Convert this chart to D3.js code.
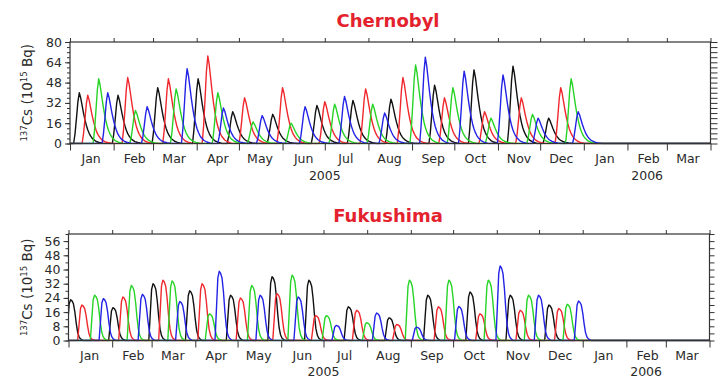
<!DOCTYPE html>
<html><head><meta charset="utf-8">
<script src="https://cdn.jsdelivr.net/npm/d3@7"></script>
<style>body{margin:0;background:#fff}svg{display:block}</style>
</head><body>
<svg id="c" width="726" height="378"></svg>
<script>
// ---------- data ----------
const monthLabels = ["Jan","Feb","Mar","Apr","May","Jun","Jul","Aug","Sep","Oct","Nov","Dec","Jan","Feb","Mar"];
const yearLabels = ["2005","2006"];
const seriesColors = ["#111111","#f0282d","#26d426","#2323e6"]; // pulses cycle black, red, green, blue
const chernobylTicks = [0,16,32,48,64,80];
const fukushimaTicks = [0,8,16,24,32,40,48,56];

// weekly releases: day of peak (days after 1 Jan 2005) and peak value (10^15 Bq)
const chernobylPeakDay = [6.6,12.6,20.4,26.8,34.1,41,46.5,54.8,62.3,69.9,75.4,83.2,91,97.9,105,109,115.6,124,130,136.5,144,151,157,167,175.4,181,188,195,201,210,215,223.5,228,236.5,245.5,252.4,259,266,272,280,287,294.5,299,307.6,314.7,320.6,328.5,332.5,340,348.6,356,361];
const chernobylPeakValue = [40,38,51,40,38,52,26,29,44,51,43,59,51,69,40,28,25,36,17,22,23,44,16,29,30,33,31,37,34,43,31,24,35,52,62,68,46,36,44,57,58,25,20,54,61,36,23,20,20,44,51,25];
const fukushimaPeakDay = [1.5,9.5,18.5,24.7,31.5,38.6,44.6,52.4,60,67,73.5,79,86,94.8,100,107,115,122,130,136,144.5,148,158.7,163,170.6,175.4,183,190,198.6,204.5,211.6,218.7,227.5,233,242,247,255,262.5,270,277,285,292,298,306.4,313.5,320.6,326.5,333.6,341,348,354,362];
const fukushimaPeakValue = [23,20,25.5,23.6,18.5,24.5,31,26,32,34,33.6,22,28,32,15,39,25.5,24,31,25.5,36,26.4,36.8,24.5,34,14,14,8.5,19,17,10,15.5,12.8,9,34,7.5,25.5,19,34,19.2,27.3,15,34,42,25.5,17,25.5,25.5,20,18,20.4,22.2];

// pulse profiles (days from peak, fraction of peak)
const chernobylShapeOffset = [-4,-3,-2,-1,0,1,2,3,4,5,6,7,8,9,10,12,14,17];
const chernobylShapeFrac   = [0,0.2,0.5,0.82,1,0.9,0.75,0.6,0.47,0.36,0.27,0.2,0.15,0.11,0.08,0.04,0.02,0];
const fukushimaShapeOffset = [-3,-2,-1,0,1,2,3,4,5,6,7,9];
const fukushimaShapeFrac   = [0,0.45,0.9,1,0.97,0.9,0.7,0.42,0.2,0.09,0.04,0];

// ---------- drawing ----------
const svg = d3.select("#c");
const FONT = "DejaVu Sans, Verdana, sans-serif";
const t0 = new Date(Date.UTC(2005,0,1)), t1 = new Date(Date.UTC(2006,3,1));
const dayDate = d => new Date(t0.getTime() + d*864e5);

const panels = [
  {title:"Chernobyl", pd:chernobylPeakDay, pv:chernobylPeakValue, so:chernobylShapeOffset, sf:chernobylShapeFrac,
   yMax:80, ticks:chernobylTicks, x0:70, x1:710.5, yTop:42, yBot:143.5, titleY:26.5, monthY:162.7, yearY:180, rightTick:7},
  {title:"Fukushima", pd:fukushimaPeakDay, pv:fukushimaPeakValue, so:fukushimaShapeOffset, sf:fukushimaShapeFrac,
   yMax:60, ticks:fukushimaTicks, x0:68.5, x1:709.5, yTop:234, yBot:340.5, titleY:221.5, monthY:359.7, yearY:375.5, rightTick:5}
];

panels.forEach((p,pi) => {
  const x = d3.scaleUtc().domain([t0,t1]).range([p.x0,p.x1]);
  const y = d3.scaleLinear().domain([0,p.yMax]).range([p.yBot,p.yTop]);
  const g = svg.append("g");
  const clipId = "clip"+pi;
  svg.append("clipPath").attr("id",clipId).append("rect")
    .attr("x",p.x0).attr("y",p.yTop-2).attr("width",p.x1-p.x0).attr("height",p.yBot-p.yTop+3);

  // series: one path per colour, made of its pulses
  const line = d3.line().x(d=>x(dayDate(d[0]))).y(d=>y(d[1]));
  seriesColors.forEach((col,ci) => {
    const pts = [[-10,0]];
    p.pd.forEach((d,i) => {
      if (i % 4 !== ci) return;
      p.so.forEach((o,k) => pts.push([d+o, p.pv[i]*p.sf[k]]));
    });
    pts.push([470,0]);
    g.append("path").datum(pts).attr("d",line)
      .attr("fill","none").attr("stroke",col).attr("stroke-width",1.4)
      .attr("stroke-linejoin","round").attr("clip-path",`url(#${clipId})`);
  });

  const axisCol = "#333";
  const months = d3.utcMonth.range(t0, new Date(Date.UTC(2006,3,2)));
  const style = sel => { sel.select(".domain").remove(); sel.selectAll("line").attr("stroke",axisCol); sel.selectAll("text").attr("fill","#2a2a2a").attr("font-family",FONT); };

  g.append("g").attr("transform",`translate(0,${p.yTop})`)
    .call(d3.axisTop(x).tickValues(months).tickSize(4).tickFormat("")).call(style);
  g.append("g").attr("transform",`translate(0,${p.yBot})`)
    .call(d3.axisBottom(x).tickValues(months).tickSize(7).tickFormat("")).call(style);

  // month labels centred in each month
  const mids = months.slice(0,15).map(m => new Date(m.getTime() + 15*864e5));
  g.append("g").selectAll("text").data(mids).join("text")
    .attr("x",d=>x(d)).attr("y",p.monthY).attr("text-anchor","middle")
    .attr("font-family",FONT).attr("font-size",12.5).attr("fill","#2a2a2a")
    .text((d,i)=>monthLabels[i]);
  const yearDates = [new Date(Date.UTC(2005,6,1)), new Date(Date.UTC(2006,1,15))];
  g.selectAll("text.yr").data(yearDates).join("text").attr("class","yr")
    .attr("x",d=>x(d)).attr("y",p.yearY).attr("text-anchor","middle")
    .attr("font-family",FONT).attr("font-size",12.5).attr("fill","#2a2a2a")
    .text((d,i)=>yearLabels[i]);

  // y axes
  const minor = d3.range(0,p.yMax+0.01,4);
  g.append("g").attr("transform",`translate(${p.x0},0)`)
    .call(d3.axisLeft(y).tickValues(minor).tickSize(3).tickFormat("")).call(style);
  g.append("g").attr("transform",`translate(${p.x0},0)`)
    .call(d3.axisLeft(y).tickValues(p.ticks).tickSize(5).tickPadding(3))
    .call(style).call(s=>s.selectAll("text").attr("font-size",12.5));
  g.append("g").attr("transform",`translate(${p.x1},0)`)
    .call(d3.axisRight(y).tickValues(minor).tickSize(p.rightTick).tickFormat("")).call(style);

  // frame
  g.append("rect").attr("x",p.x0).attr("y",p.yTop).attr("width",p.x1-p.x0).attr("height",p.yBot-p.yTop)
    .attr("fill","none").attr("stroke",axisCol).attr("stroke-width",1.2);

  // title
  g.append("text").attr("x",388).attr("y",p.titleY).attr("text-anchor","middle")
    .attr("font-family",FONT).attr("font-weight","bold").attr("font-size",18)
    .attr("fill","#e3222e").text(p.title);

  // y label
  const cy = (p.yTop+p.yBot)/2;
  const yl = g.append("text").attr("transform",`translate(32,${cy}) rotate(-90)`)
    .attr("text-anchor","middle").attr("font-family",FONT).attr("font-size",13.5).attr("fill","#2a2a2a");
  yl.append("tspan").attr("font-size",8.5).attr("dy",-5).text("137");
  yl.append("tspan").attr("dy",5).text("Cs (10");
  yl.append("tspan").attr("font-size",8.5).attr("dy",-5).text("15");
  yl.append("tspan").attr("dy",5).text(" Bq)");
});
</script>
</body></html>
